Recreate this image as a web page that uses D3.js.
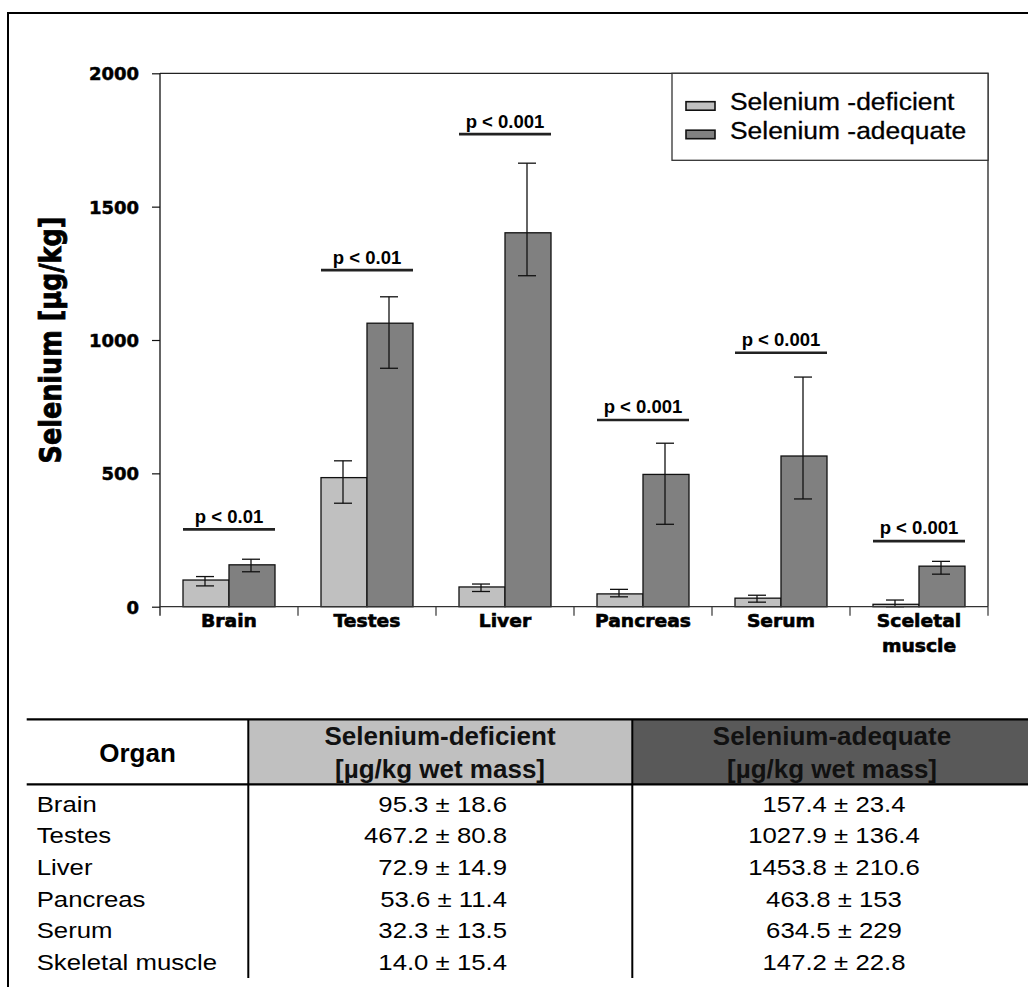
<!DOCTYPE html>
<html>
<head>
<meta charset="utf-8">
<script src="https://cdn.jsdelivr.net/npm/d3@7"></script>
<style>
  html, body { margin: 0; padding: 0; background: #fff; }
  svg { display: block; }
</style>
</head>
<body>
<svg id="fig" width="1028" height="987"></svg>
<script>
// ---- chart data (selenium, µg/kg) ----
const organs = ["Brain", "Testes", "Liver", "Pancreas", "Serum", "Sceletal muscle"];
const organLabelLines = [["Brain"], ["Testes"], ["Liver"], ["Pancreas"], ["Serum"], ["Sceletal", "muscle"]];
const seriesNames = ["Selenium -deficient", "Selenium -adequate"];

const deficient     = [100, 484, 74, 48, 32, 9];
const deficientLow  = [78, 388, 57, 37, 17, 0];
const deficientHigh = [113, 547, 85, 65, 43, 25];

const adequate     = [157, 1063, 1402, 496, 565, 152];
const adequateLow  = [131, 894, 1241, 309, 404, 122];
const adequateHigh = [178, 1162, 1663, 613, 861, 170];

const pLabels = ["p < 0.01", "p < 0.01", "p < 0.001", "p < 0.001", "p < 0.001", "p < 0.001"];
const pLevel  = [290, 1262, 1772, 700, 952, 246];

const yTicks = [0, 500, 1000, 1500, 2000];

// ---- table data ----
const tableOrgans = ["Brain", "Testes", "Liver", "Pancreas", "Serum", "Skeletal muscle"];
const defMean = ["95.3", "467.2", "72.9", "53.6", "32.3", "14.0"];
const defSD   = ["18.6", "80.8", "14.9", "11.4", "13.5", "15.4"];
const adqMean = ["157.4", "1027.9", "1453.8", "463.8", "634.5", "147.2"];
const adqSD   = ["23.4", "136.4", "210.6", "153", "229", "22.8"];
const tableHeaders = [["Organ"], ["Selenium-deficient", "[µg/kg wet mass]"], ["Selenium-adequate", "[µg/kg wet mass]"]];

const colors = { deficient: "#c0c0c0", adequate: "#808080", headDef: "#c0c0c0", headAdq: "#595959" };

const svg = d3.select("#fig");
const HEAVY = "'DejaVu Sans', sans-serif";
const SANS = "'Liberation Sans', Arial, sans-serif";

// text helper with optional horizontal stretch
function stext(parent, x, y, str, o) {
  const t = parent.append("text")
    .attr("transform", `translate(${x},${y}) scale(${o.sx || 1},1)`)
    .attr("text-anchor", o.anchor || "start")
    .attr("font-family", o.family || SANS)
    .attr("font-size", o.size)
    .attr("font-weight", o.weight || "normal")
    .attr("fill", o.fill || "#000")
    .text(str);
  if (o.heavy) t.attr("stroke", o.fill || "#000").attr("stroke-width", o.heavy);
  return t;
}

// outer frame
svg.append("path").attr("d", "M1030,13H8V990")
  .attr("fill", "none").attr("stroke", "#000").attr("stroke-width", 2);

// ---- plot ----
const plot = { left: 160, right: 988, top: 73.3, bottom: 606.7 };
const y = d3.scaleLinear().domain([0, 2000]).range([plot.bottom, plot.top]);
const x = d3.scaleBand().domain(organs).range([plot.left, plot.right]).padding(0);
const xs = d3.scaleBand().domain(["deficient", "adequate"])
  .range([x.bandwidth() / 6, x.bandwidth() * 5 / 6]).padding(0);

const g = svg.append("g");

// plot frame top and right
g.append("path").attr("d", `M${plot.left},${plot.top}H${plot.right}V${plot.bottom}`)
  .attr("fill", "none").attr("stroke", "#222").attr("stroke-width", 1.3);

// y axis
const yAxis = g.append("g").attr("transform", `translate(${plot.left},0)`)
  .call(d3.axisLeft(y).tickValues(yTicks).tickFormat(d3.format("d"))
    .tickSize(8).tickPadding(13).tickSizeOuter(0));
yAxis.select(".domain").attr("stroke", "#111").attr("stroke-width", 1.3)
  .attr("d", `M0,${plot.top}V${plot.bottom + 9}`);
yAxis.selectAll(".tick line").attr("stroke", "#111").attr("stroke-width", 1.2);
yAxis.selectAll(".tick text").attr("font-family", HEAVY).attr("font-weight", "bold")
  .attr("font-size", 18).attr("fill", "#000").attr("dy", "0.36em")
  .attr("stroke", "#000").attr("stroke-width", 0.5);

// y title
svg.append("text")
  .attr("transform", "translate(52,340) rotate(-90) scale(1,1.15)")
  .attr("text-anchor", "middle").attr("dominant-baseline", "middle")
  .attr("font-family", HEAVY).attr("font-weight", "bold").attr("font-size", 25.5)
  .attr("stroke", "#000").attr("stroke-width", 0.7)
  .text("Selenium [µg/kg]");

// bars
const rows = organs.map((o, i) => ({
  organ: o,
  vals: [
    { key: "deficient", v: deficient[i], lo: deficientLow[i], hi: deficientHigh[i] },
    { key: "adequate", v: adequate[i], lo: adequateLow[i], hi: adequateHigh[i] }
  ]
}));

const groups = g.selectAll("g.grp").data(rows).join("g")
  .attr("class", "grp").attr("transform", d => `translate(${x(d.organ)},0)`);

groups.selectAll("rect").data(d => d.vals).join("rect")
  .attr("x", d => xs(d.key)).attr("width", xs.bandwidth())
  .attr("y", d => y(d.v)).attr("height", d => y(0) - y(d.v))
  .attr("fill", d => colors[d.key]).attr("stroke", "#111").attr("stroke-width", 1.3);

// error bars
const cap = 9;
const eb = groups.selectAll("g.eb").data(d => d.vals).join("g").attr("class", "eb")
  .attr("transform", d => `translate(${xs(d.key) + xs.bandwidth() / 2 - 1},0)`);
eb.append("line").attr("x1", 0).attr("x2", 0)
  .attr("y1", d => y(d.hi)).attr("y2", d => y(d.lo));
eb.append("line").attr("x1", -cap).attr("x2", cap)
  .attr("y1", d => y(d.hi)).attr("y2", d => y(d.hi));
eb.append("line").attr("x1", -cap).attr("x2", cap)
  .attr("y1", d => y(d.lo)).attr("y2", d => y(d.lo));
eb.selectAll("line").attr("stroke", "#111").attr("stroke-width", 1.3);

// x axis line and category separators
g.append("line").attr("x1", plot.left).attr("x2", plot.right)
  .attr("y1", plot.bottom).attr("y2", plot.bottom)
  .attr("stroke", "#333").attr("stroke-width", 1.3);
const bounds = organs.map(o => x(o)).concat([plot.right]);
g.selectAll("line.xt").data(bounds.slice(1)).join("line").attr("class", "xt")
  .attr("x1", d => d).attr("x2", d => d)
  .attr("y1", plot.bottom).attr("y2", plot.bottom + 9)
  .attr("stroke", "#333").attr("stroke-width", 1.2);

// category labels
organs.forEach((o, i) => {
  organLabelLines[i].forEach((ln, j) => {
    stext(g, x(o) + x.bandwidth() / 2, 626.7 + j * 25, ln,
      { size: 18, weight: "bold", family: HEAVY, anchor: "middle", sx: 1.04, heavy: 0.6 });
  });
});

// significance brackets
organs.forEach((o, i) => {
  const x0 = x(o) + xs("deficient"), x1 = x(o) + xs("adequate") + xs.bandwidth();
  const yl = y(pLevel[i]);
  g.append("line").attr("x1", x0).attr("x2", x1).attr("y1", yl).attr("y2", yl)
    .attr("stroke", "#222").attr("stroke-width", 2.6);
  stext(g, (x0 + x1) / 2, yl - 6.6, pLabels[i],
    { size: 18.5, weight: "bold", anchor: "middle" });
});

// legend
const lg = svg.append("g");
lg.append("rect").attr("x", 672).attr("y", plot.top).attr("width", plot.right - 672).attr("height", 87)
  .attr("fill", "#fff").attr("stroke", "#333").attr("stroke-width", 1.3);
[colors.deficient, colors.adequate].forEach((c, i) => {
  lg.append("rect").attr("x", 686).attr("y", 101.7 + i * 28.5).attr("width", 29).attr("height", 8.5)
    .attr("fill", c).attr("stroke", "#111").attr("stroke-width", 1.6);
  stext(lg, 730, 110 + i * 28.5, seriesNames[i], { size: 24, sx: 1.1, heavy: 0.3 });
});

// ---- table ----
const tb = svg.append("g");
const T = { left: 26.7, right: 1030, top: 719.3, headBottom: 784.3, c1: 248.3, c2: 632.3, bottom: 978 };
tb.append("rect").attr("x", T.c1).attr("y", T.top).attr("width", T.c2 - T.c1)
  .attr("height", T.headBottom - T.top).attr("fill", colors.headDef);
tb.append("rect").attr("x", T.c2).attr("y", T.top).attr("width", T.right - T.c2)
  .attr("height", T.headBottom - T.top).attr("fill", colors.headAdq);
[T.top, T.headBottom].forEach(yy => {
  tb.append("line").attr("x1", T.left).attr("x2", T.right).attr("y1", yy).attr("y2", yy)
    .attr("stroke", "#000").attr("stroke-width", 2.2);
});
[T.c1, T.c2].forEach(xx => {
  tb.append("line").attr("x1", xx).attr("x2", xx).attr("y1", T.top).attr("y2", T.bottom)
    .attr("stroke", "#000").attr("stroke-width", 2);
});

// header text
stext(tb, (T.left + T.c1) / 2, 761.7, tableHeaders[0][0], { size: 25, weight: "bold", anchor: "middle", sx: 1.04 });
[[440, tableHeaders[1]], [832, tableHeaders[2]]].forEach(([cx, lines]) => {
  lines.forEach((ln, j) => {
    stext(tb, cx, 745 + j * 32.5, ln, { size: 25, weight: "bold", anchor: "middle", sx: 1.04, fill: "#111" });
  });
});

// body rows
tableOrgans.forEach((o, i) => {
  const by = 811.7 + i * 31.65;
  stext(tb, 36.7, by, o, { size: 23, sx: 1.12 });
  stext(tb, 507, by, `${defMean[i]} ± ${defSD[i]}`, { size: 23, sx: 1.12, anchor: "end" });
  stext(tb, 834, by, `${adqMean[i]} ± ${adqSD[i]}`, { size: 23, sx: 1.12, anchor: "middle" });
});
</script>
</body>
</html>
